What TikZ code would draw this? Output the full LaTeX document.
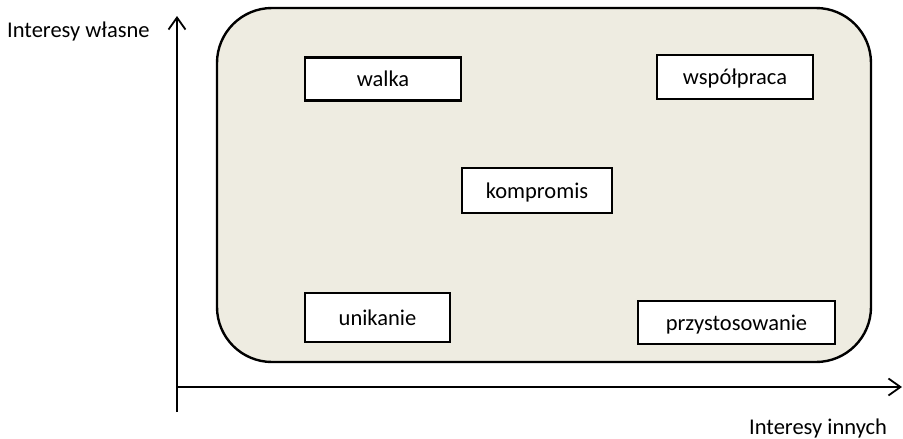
\documentclass[tikz,border=0pt]{standalone}
\usepackage{fontspec}
\setmainfont{Carlito}
\usetikzlibrary{arrows.meta}
\definecolor{panel}{HTML}{EEECE1}
\newcommand{\bigtxt}{\fontsize{22.5pt}{26pt}\selectfont}
\begin{document}
\begin{tikzpicture}[x=1pt,y=-1pt,
  axlabel/.style={inner sep=0pt, anchor=base west, font=\bigtxt},
  item/.style={draw=black, line width=2.2pt, fill=white, inner sep=0pt, font=\bigtxt, text height=15pt, text depth=0pt},
  axis/.style={line width=2.2pt, -{Straight Barb[length=12pt,width=17pt,line width=1.8pt]}}]
\useasboundingbox (0,0) rectangle (903,439);
% panel
\draw[line width=2.4pt, fill=panel, rounded corners=55pt] (217,8) rectangle (871,362);
% axes
\coordinate (ytop) at (177,16);
\coordinate (ybot) at (177,412);
\coordinate (xl) at (177,387);
\coordinate (xr) at (902,387);
\draw[axis] (ybot) -- (ytop);
\draw[axis] (xl) -- (xr);
% boxes
\node[item, minimum width=156pt, minimum height=43pt] (walka) at (383,79) {walka};
\node[item, minimum width=156pt, minimum height=44pt] (wsp) at (735,77) {współpraca};
\node[item, minimum width=150pt, minimum height=45pt] (komp) at (537,190.5) {kompromis};
\node[item, minimum width=145pt, minimum height=49pt] (unik) at (377.5,317.5) {unikanie};
\node[item, minimum width=197pt, minimum height=43pt] (przy) at (736.5,322.5) {przystosowanie};
% axis labels
\node[axlabel] (ylab) at (7,37.5) {Interesy własne};
\node[axlabel] (xlab) at (749,434) {Interesy innych};
\end{tikzpicture}
\end{document}
